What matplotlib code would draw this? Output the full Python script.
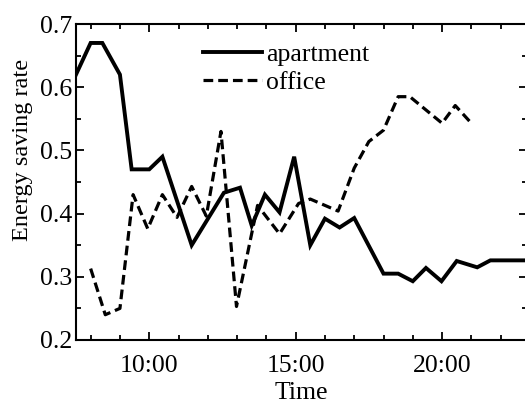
import matplotlib
matplotlib.use("Agg")
import matplotlib.pyplot as plt
from matplotlib.ticker import MultipleLocator, FixedLocator

plt.rcParams['font.family'] = ['Liberation Serif', 'DejaVu Serif']
plt.rcParams['lines.scale_dashes'] = False

# apartment series (time in hours, energy saving rate)
apt_time = [7.5, 8.0, 8.4, 9.0, 9.4, 10.0, 10.45, 11.45, 12.55, 13.1, 13.5, 13.95,
            14.45, 14.95, 15.5, 16.0, 16.5, 17.0, 18.0, 18.5, 19.0, 19.45, 19.98,
            20.5, 21.2, 21.65, 23.0]
apt_rate = [0.62, 0.67, 0.67, 0.62, 0.47, 0.47, 0.49, 0.35, 0.433, 0.441, 0.381, 0.43,
            0.402, 0.49, 0.35, 0.392, 0.378, 0.393, 0.305, 0.305, 0.293, 0.314, 0.293,
            0.325, 0.315, 0.326, 0.326]

# office series
off_time = [8.0, 8.5, 9.0, 9.45, 9.95, 10.45, 10.95, 11.45, 11.95, 12.45, 12.98,
            13.7, 14.45, 15.1, 15.5, 16.45, 17.0, 17.5, 18.0, 18.5, 18.9, 20.0,
            20.45, 21.0]
off_rate = [0.313, 0.24, 0.25, 0.43, 0.376, 0.43, 0.394, 0.443, 0.396, 0.53, 0.253,
            0.413, 0.368, 0.416, 0.423, 0.404, 0.472, 0.514, 0.532, 0.585, 0.585, 0.543,
            0.571, 0.543]

xtick_pos = [10, 15, 20]
xtick_labels = ['10:00', '15:00', '20:00']
ytick_pos = [0.2, 0.3, 0.4, 0.5, 0.6, 0.7]

fig = plt.figure(figsize=(5.25, 4.05), dpi=100)
W, H = 525, 405
ax = fig.add_axes([76 / W, (H - 340) / H, (527 - 76) / W, (340 - 24) / H])

ax.plot(apt_time, apt_rate, color='black', lw=2.8, solid_joinstyle='miter',
        label='apartment')
ax.plot(off_time, off_rate, color='black', lw=2.3, dashes=(7.0, 3.6),
        label='office')

ax.set_xlim(7.5, 22.9)
ax.set_ylim(0.2, 0.7)
ax.xaxis.set_major_locator(FixedLocator(xtick_pos))
ax.set_xticklabels(xtick_labels)
ax.xaxis.set_minor_locator(MultipleLocator(1))
ax.yaxis.set_major_locator(FixedLocator(ytick_pos))
ax.set_yticklabels([f'{v:.1f}' for v in ytick_pos])
ax.yaxis.set_minor_locator(MultipleLocator(0.05))

ax.tick_params(which='both', direction='in', top=True, right=True, width=1.3)
ax.tick_params(which='major', length=6, labelsize=18.5)
ax.tick_params(axis='y', which='major', pad=3)
ax.tick_params(axis='x', which='major', pad=11)
ax.tick_params(which='minor', length=3.5)
for s in ax.spines.values():
    s.set_linewidth(1.5)

ax.set_xlabel('Time', fontsize=18.5, labelpad=3.5)
fig.text(23 / W, 1 - 150 / H, 'Energy saving rate', rotation=90, ha='center',
         va='center', fontsize=17.5)

ax.legend(loc='upper left', bbox_to_anchor=((203 - 76) / 451, (340 - 43) / 316),
          frameon=False, fontsize=18.5, handlelength=2.3, handletextpad=0.15,
          labelspacing=0.2, borderpad=0, borderaxespad=0)

fig.savefig('out.png', dpi=100)
